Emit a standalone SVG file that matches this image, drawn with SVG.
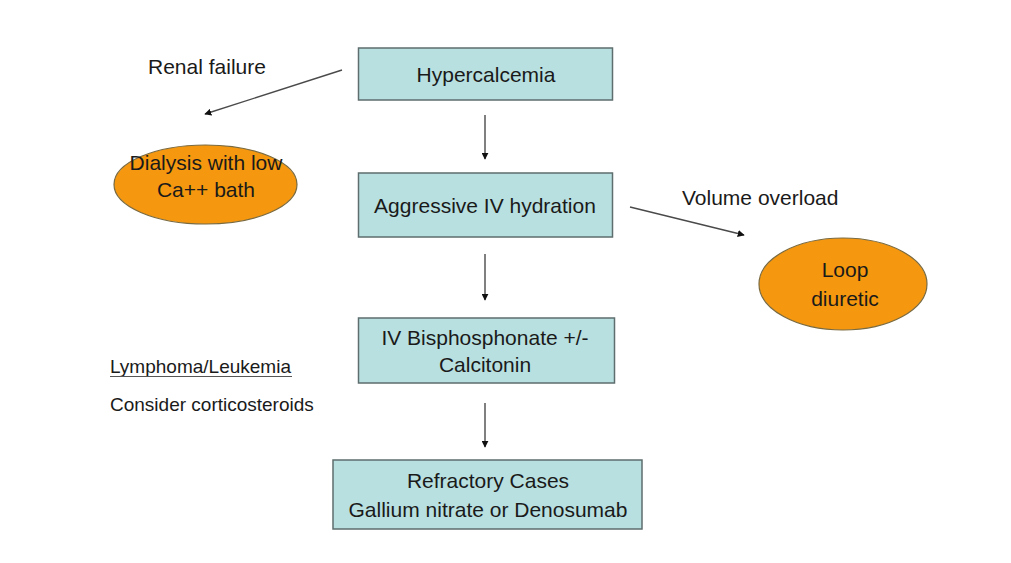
<svg xmlns="http://www.w3.org/2000/svg" width="1011" height="563" viewBox="0 0 1011 563">
<style>
.box{fill:#b8e0e0;stroke:#5e6e6e;stroke-width:1.5}
.oval{fill:#f5980f;stroke:#7a6a40;stroke-width:1.2}
text{font-family:"Liberation Sans",Arial,sans-serif;fill:#1a1a1a;text-anchor:middle;font-size:21px}
.lbl{text-anchor:start}
.small{font-size:19px;text-anchor:start}
.conn line{stroke:#4a4a4a;stroke-width:1.4;fill:none}
</style>
<defs>
<marker id="ah" viewBox="0 0 10 10" refX="9" refY="5" markerWidth="7" markerHeight="7" markerUnits="userSpaceOnUse" orient="auto">
<path d="M0,0 L10,5 L0,10 z" fill="#111"/>
</marker>
</defs>
<rect width="1011" height="563" fill="#ffffff"/>
<g id="hypercalcemia">
<rect class="box" x="358.5" y="48" width="254" height="52"/>
<text x="486" y="82">Hypercalcemia</text>
</g>
<g id="hydration">
<rect class="box" x="358.5" y="173" width="254" height="64"/>
<text x="485" y="213">Aggressive IV hydration</text>
</g>
<g id="bisphosphonate">
<rect class="box" x="358.5" y="318" width="256" height="65"/>
<text x="485" y="345">IV Bisphosphonate +/-</text>
<text x="485" y="372">Calcitonin</text>
</g>
<g id="refractory">
<rect class="box" x="333" y="460" width="309" height="69"/>
<text x="488" y="488">Refractory Cases</text>
<text x="488" y="517">Gallium nitrate or Denosumab</text>
</g>
<g id="dialysis">
<ellipse class="oval" cx="205.5" cy="184.5" rx="91.5" ry="39.5"/>
<text x="206" y="170">Dialysis with low</text>
<text x="206" y="197">Ca++ bath</text>
</g>
<g id="loop">
<ellipse class="oval" cx="843" cy="284" rx="84" ry="46"/>
<text x="845" y="277">Loop</text>
<text x="845" y="306">diuretic</text>
</g>
<g id="labels">
<text class="lbl" x="148" y="74">Renal failure</text>
<text class="lbl" x="682" y="205">Volume overload</text>
<text class="small" x="110" y="373">Lymphoma/Leukemia</text>
<line x1="110" y1="376.5" x2="292" y2="376.5" stroke="#555" stroke-width="1.2"/>
<text class="small" x="110" y="411">Consider corticosteroids</text>
</g>
<g class="conn" id="connectors">
<line x1="485" y1="115" x2="485" y2="159" marker-end="url(#ah)"/>
<line x1="485" y1="254" x2="485" y2="300" marker-end="url(#ah)"/>
<line x1="485" y1="403" x2="485" y2="447" marker-end="url(#ah)"/>
<line x1="342" y1="70" x2="205" y2="114" marker-end="url(#ah)"/>
<line x1="630" y1="207" x2="744" y2="235" marker-end="url(#ah)"/>
</g>
</svg>
